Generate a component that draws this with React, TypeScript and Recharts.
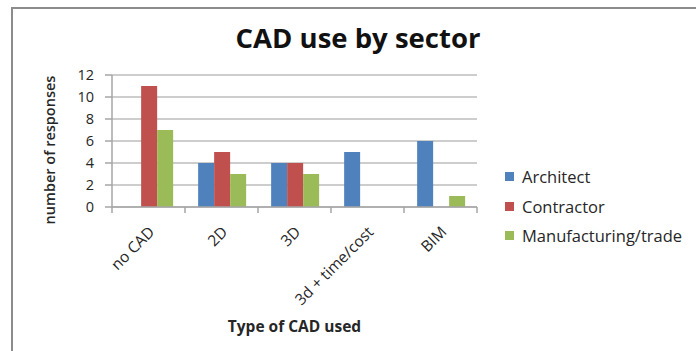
import { BarChart, Bar, XAxis, YAxis, CartesianGrid, Legend } from "recharts";

const categories = ["no CAD", "2D", "3D", "3d + time/cost", "BIM"];
const architect = [0, 4, 4, 5, 6];
const contractor = [11, 5, 4, 0, 0];
const manufacturing = [7, 3, 3, 0, 1];
const yTicks = [0, 2, 4, 6, 8, 10, 12];

const data = categories.map((name, i) => ({
  name,
  Architect: architect[i],
  Contractor: contractor[i],
  "Manufacturing/trade": manufacturing[i],
}));

const FONT = "'Open Sans', 'Noto Sans', sans-serif";
const AXIS = "#a6a6a6";
const INK = "#262626";

// Excel-style category ticks: marks sit on the band edges, labels are slanted
function CategoryTick(props: any) {
  const { x, y, payload, index, visibleTicksCount } = props;
  const half = payload?.offset ?? 36.5;
  const last = index === (visibleTicksCount ?? categories.length) - 1;
  return (
    <g>
      <line x1={x - half} y1={y - 8} x2={x - half} y2={y - 2} stroke={AXIS} strokeWidth={1.5} />
      {last && <line x1={x + half} y1={y - 8} x2={x + half} y2={y - 2} stroke={AXIS} strokeWidth={1.5} />}
      <text
        x={x + 7}
        y={y + 18}
        textAnchor="end"
        transform={`rotate(-45 ${x + 7} ${y + 18})`}
        fontSize={15.5}
        fill={INK}
        fontFamily={FONT}
      >
        {payload.value}
      </text>
    </g>
  );
}

function YTitle({ viewBox }: any) {
  const cx = viewBox.x + 49;
  const cy = viewBox.y + viewBox.height / 2 + 9;
  return (
    <text
      x={cx}
      y={cy}
      textAnchor="middle"
      dominantBaseline="central"
      transform={`rotate(-90 ${cx} ${cy})`}
      fontFamily={FONT}
      fontWeight={600}
      fontSize={14.5}
      fill={INK}
    >
      number of responses
    </text>
  );
}

function LegendBox({ payload }: any) {
  return (
    <div style={{ fontFamily: FONT, fontSize: 16.5, color: INK }}>
      {(payload || []).map((p: any) => (
        <div key={p.value} style={{ display: "flex", alignItems: "center", height: 29.5 }}>
          <span style={{ width: 9, height: 9, background: p.color, marginRight: 8 }} />
          {p.value}
        </div>
      ))}
    </div>
  );
}

export default function App() {
  return (
    <div style={{ position: "fixed", left: 0, top: 0, width: 696, height: 351, background: "#fff", overflow: "hidden" }}>
      <div
        style={{
          position: "absolute",
          left: 11,
          top: 7,
          width: 700,
          height: 360,
          borderLeft: "2px solid #8c8c8c",
          borderTop: "2px solid #8c8c8c",
        }}
      />
      <div
        style={{
          position: "absolute",
          left: 0,
          width: 716,
          top: 19,
          textAlign: "center",
          fontFamily: FONT,
          fontWeight: 700,
          fontSize: 27.5,
          color: "#111",
        }}
      >
        CAD use by sector
      </div>
      <BarChart
        width={696}
        height={351}
        data={data}
        margin={{ top: 75, right: 29, bottom: 0, left: 0 }}
        barCategoryGap="18%"
        barGap={0}
        style={{ position: "absolute", left: 0, top: 0 }}
      >
        <CartesianGrid vertical={false} stroke="#bdbdbd" strokeWidth={1.5} />
        <XAxis
          dataKey="name"
          height={144}
          stroke={AXIS}
          strokeWidth={1.5}
          tickLine={false}
          interval={0}
          tick={<CategoryTick />}
          label={{
            value: "Type of CAD used",
            position: "insideBottom",
            offset: 19,
            style: { fontFamily: FONT, fontWeight: 700, fontSize: 15.5, fill: INK },
          }}
        />
        <YAxis
          width={112}
          domain={[0, 12]}
          ticks={yTicks}
          interval={0}
          stroke={AXIS}
          strokeWidth={1.5}
          tickSize={7}
          tickMargin={11}
          tick={{ fontFamily: FONT, fontSize: 14.5, fill: INK }}
          label={<YTitle />}
        />
        <Legend
          layout="vertical"
          align="right"
          verticalAlign="top"
          content={<LegendBox />}
          wrapperStyle={{ left: 505, top: 162, width: 190 }}
        />
        <Bar dataKey="Architect" fill="#4f81bd" isAnimationActive={false} />
        <Bar dataKey="Contractor" fill="#c0504d" isAnimationActive={false} />
        <Bar dataKey="Manufacturing/trade" fill="#9bbb59" isAnimationActive={false} />
      </BarChart>
    </div>
  );
}
